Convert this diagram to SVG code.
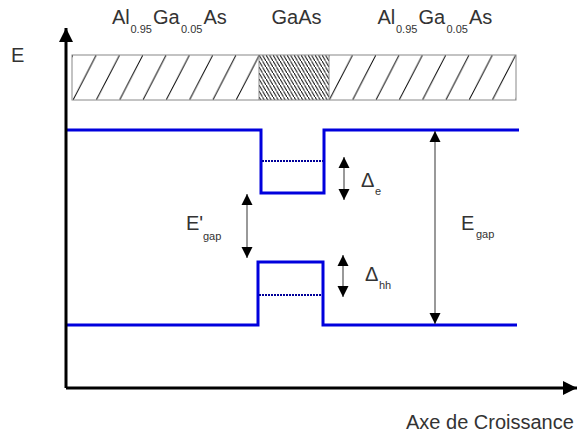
<svg xmlns="http://www.w3.org/2000/svg" width="577" height="437" viewBox="0 0 577 437">
<style>
text{font-family:"Liberation Sans",Arial,sans-serif;fill:#333}
.m{font-size:20px}
.s{font-size:11px}
.band{fill:none;stroke:#0000dd;stroke-width:3}
.dot{fill:none;stroke:#000099;stroke-width:2;stroke-dasharray:2,1}
.axis{fill:none;stroke:#000;stroke-width:3}
.dim{fill:none;stroke:#555;stroke-width:1.2}
</style>
<defs>
<pattern id="hAl" patternUnits="userSpaceOnUse" x="73" y="55" width="23.3" height="45">
<line x1="0" y1="45" x2="23.3" y2="0" stroke="#000" stroke-width="1"/>
</pattern>
<pattern id="hGa" patternUnits="userSpaceOnUse" x="259" y="55" width="3.5" height="6">
<line x1="0" y1="0" x2="3.5" y2="6" stroke="#000" stroke-width="0.9"/>
</pattern>
<marker id="ah" viewBox="0 0 10 10" refX="10" refY="5" markerWidth="11" markerHeight="12" markerUnits="userSpaceOnUse" orient="auto-start-reverse">
<path d="M0,0 L10,5 L0,10 Z" fill="#000"/>
</marker>
<marker id="axh" viewBox="0 0 10 10" refX="10" refY="5" markerWidth="20" markerHeight="14" markerUnits="userSpaceOnUse" orient="auto">
<path d="M0,0 L10,5 L0,10 Z" fill="#000"/>
</marker>
</defs>
<g id="layers">
<rect x="72" y="55" width="187" height="45" fill="url(#hAl)" stroke="none"/>
<rect x="259" y="55" width="70" height="45" fill="url(#hGa)" stroke="none"/>
<rect x="329" y="55" width="187" height="45" fill="url(#hAl)" stroke="none"/>
<rect x="72" y="55" width="444" height="45" fill="none" stroke="#888" stroke-width="1"/>
<line x1="259" y1="55" x2="259" y2="100" stroke="#888" stroke-width="1"/>
<line x1="329" y1="55" x2="329" y2="100" stroke="#888" stroke-width="1"/>
</g>
<g id="bands">
<path class="band" d="M66,130 H261 V193 H324 V130 H519"/>
<path class="band" d="M66,325 H258 V262 H323 V325 H517"/>
<line class="dot" x1="262" y1="161" x2="323" y2="161"/>
<line class="dot" x1="259" y1="295" x2="322" y2="295"/>
</g>
<g id="connectors">
<path class="axis" d="M66,388 V28" marker-end="url(#axh)"/>
<path class="axis" d="M66,388 H577" marker-end="url(#axh)"/>
<line class="dim" x1="344" y1="157" x2="344" y2="200" marker-start="url(#ah)" marker-end="url(#ah)"/>
<line class="dim" x1="343" y1="255" x2="343" y2="297" marker-start="url(#ah)" marker-end="url(#ah)"/>
<line class="dim" x1="247" y1="194" x2="247" y2="258" marker-start="url(#ah)" marker-end="url(#ah)"/>
<line class="dim" x1="435" y1="131" x2="435" y2="324" marker-start="url(#ah)" marker-end="url(#ah)"/>
</g>
<g id="labels">
<text class="m" x="11" y="62">E</text>
<text class="m"><tspan x="112" y="24">Al</tspan><tspan class="s" x="130.5" y="33">0.95</tspan><tspan x="153" y="24">Ga</tspan><tspan class="s" x="181" y="33">0.05</tspan><tspan x="203.5" y="24">As</tspan></text>
<text class="m" x="271.5" y="24">GaAs</text>
<text class="m"><tspan x="377.5" y="24">Al</tspan><tspan class="s" x="396" y="33">0.95</tspan><tspan x="418.5" y="24">Ga</tspan><tspan class="s" x="446.5" y="33">0.05</tspan><tspan x="469" y="24">As</tspan></text>
<text class="m"><tspan x="361" y="187">Δ</tspan><tspan class="s" x="375" y="195">e</tspan></text>
<text class="m"><tspan x="365" y="281">Δ</tspan><tspan class="s" x="379" y="289">hh</tspan></text>
<text class="m"><tspan x="186" y="230">E'</tspan><tspan class="s" x="203" y="240">gap</tspan></text>
<text class="m"><tspan x="461" y="230">E</tspan><tspan class="s" x="476" y="238">gap</tspan></text>
<text class="m" x="406" y="429">Axe de Croissance</text>
</g>
</svg>
